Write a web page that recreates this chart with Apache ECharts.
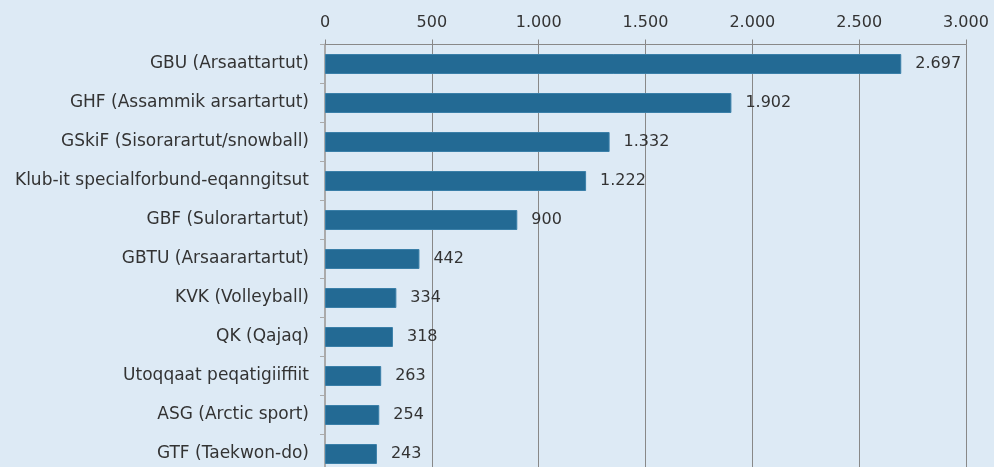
<!DOCTYPE html>
<html>
<head>
<meta charset="utf-8">
<script src="https://cdn.jsdelivr.net/npm/echarts@6/dist/echarts.min.js"></script>
<style>
  html, body { margin: 0; padding: 0; background: #ddeaf5; }
  #chart { width: 994px; height: 467px; }
</style>
</head>
<body>
<div id="chart"></div>
<script>
// kategorier og værdier (fra top til bund)
var categories = [
  'GBU (Arsaattartut)',
  'GHF (Assammik arsartartut)',
  'GSkiF (Sisorarartut/snowball)',
  'Klub-it specialforbund-eqanngitsut',
  'GBF (Sulorartartut)',
  'GBTU (Arsaarartartut)',
  'KVK (Volleyball)',
  'QK (Qajaq)',
  'Utoqqaat peqatigiiffiit',
  'ASG (Arctic sport)',
  'GTF (Taekwon-do)'
];
var values = [2697, 1902, 1332, 1222, 900, 442, 334, 318, 263, 254, 243];

// tusind-separator med punktum
function fmt(v) {
  return String(v).replace(/\B(?=(\d{3})+(?!\d))/g, '.');
}

var chart = echarts.init(document.getElementById('chart'), null, { renderer: 'canvas' });
var font = '"DejaVu Sans", sans-serif';

var option = {
  backgroundColor: '#ddeaf5',
  animation: false,
  grid: {
    left: 325,
    right: 28,
    top: 44.5,
    height: 429,
    outerBoundsMode: 'none',
    containLabel: false
  },
  xAxis: {
    type: 'value',
    position: 'top',
    min: 0,
    max: 3000,
    interval: 500,
    axisLine: { show: true, lineStyle: { color: '#888', width: 1 } },
    axisTick: { show: true, length: 5, lineStyle: { color: '#888' } },
    axisLabel: {
      color: '#333',
      fontSize: 16,
      fontFamily: font,
      margin: 14,
      formatter: function (v) { return fmt(v); }
    },
    splitLine: { show: true, lineStyle: { color: '#888', width: 1 } }
  },
  yAxis: {
    type: 'category',
    inverse: true,
    data: categories,
    axisLine: { show: true, lineStyle: { color: '#aaa', width: 2 } },
    axisTick: { show: true, length: 5, lineStyle: { color: '#aaa' } },
    axisLabel: {
      color: '#333',
      fontSize: 17,
      fontFamily: font,
      margin: 16
    }
  },
  series: [{
    type: 'bar',
    data: values,
    barWidth: 20,
    itemStyle: { color: '#236a94', borderColor: '#3a7fa8', borderWidth: 1 },
    label: {
      show: true,
      position: 'right',
      distance: 14,
      color: '#333',
      fontSize: 16,
      fontFamily: font,
      formatter: function (p) { return fmt(p.value); }
    }
  }]
};

chart.setOption(option);
</script>
</body>
</html>
